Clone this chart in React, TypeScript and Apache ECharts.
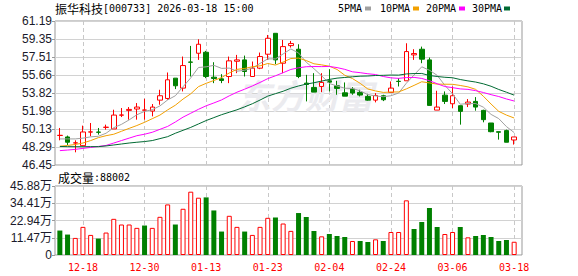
import React, { useEffect, useRef } from 'react';
import * as echarts from 'echarts';

const dates = [
  '12-15','12-16','12-17','12-18','12-19','12-22','12-23','12-24','12-25','12-26',
  '12-29','12-30','12-31','01-05','01-06','01-07','01-08','01-09','01-12','01-13',
  '01-14','01-15','01-16','01-19','01-20','01-21','01-22','01-23','01-26','01-27',
  '01-28','01-29','01-30','02-02','02-03','02-04','02-05','02-06','02-09','02-10',
  '02-11','02-12','02-13','02-24','02-25','02-26','02-27','03-02','03-03','03-04',
  '03-05','03-06','03-09','03-10','03-11','03-12','03-13','03-16','03-17','03-18',
];

const priceTicks = ['46.45','48.29','50.13','51.98','53.82','55.66','57.51','59.35','61.19'];
const volTicks = ['0','11.47万','22.94万','34.41万','45.88万'];

const opens = [
  49.47,49.32,48.70,48.43,49.82,49.82,50.30,50.14,51.55,52.04,
  52.18,52.06,51.97,53.09,53.26,55.34,54.32,56.99,57.89,57.99,
  55.44,55.27,55.51,57.07,57.21,55.51,56.36,57.79,59.93,56.87,
  58.67,58.30,54.83,54.39,54.49,55.07,54.56,53.84,54.22,53.88,
  53.47,53.09,53.54,53.88,55.02,55.07,57.72,58.30,57.21,52.07,
  53.60,52.72,52.52,52.69,52.96,52.04,50.75,49.86,49.97,49.01,
];
const closes = [
  49.49,48.78,48.72,49.83,49.84,49.80,50.32,51.56,51.57,52.14,
  52.38,52.08,52.38,53.54,55.17,54.56,56.63,56.97,58.81,55.51,
  55.31,55.10,57.11,57.21,56.02,56.36,57.55,59.42,57.21,58.57,
  58.88,55.51,54.69,53.91,54.90,54.93,54.29,53.50,53.81,53.61,
  53.09,53.57,53.13,54.32,55.00,58.06,57.86,57.28,52.55,52.38,
  52.96,53.54,51.94,52.89,52.38,51.09,49.86,49.80,48.78,49.32,
];
const lows = [
  48.98,48.50,47.75,48.37,49.39,49.56,50.07,50.14,51.36,51.09,
  51.09,51.09,51.43,52.62,53.13,54.22,53.98,55.51,57.21,55.34,
  54.83,54.83,54.83,55.85,55.51,55.51,56.26,57.21,56.77,55.85,
  58.47,55.34,52.96,53.91,53.91,53.98,53.64,53.50,53.64,53.47,
  53.03,52.86,52.99,53.88,54.49,55.07,57.21,56.87,52.55,52.07,
  52.69,52.28,50.58,52.38,52.01,50.82,49.80,49.05,48.78,48.54,
];
const highs = [
  50.24,49.46,48.98,50.48,50.75,50.24,50.58,52.11,52.28,52.38,
  52.79,53.23,52.69,54.15,55.92,55.34,57.55,58.64,59.32,58.13,
  56.97,55.75,57.55,57.72,57.65,57.04,57.96,59.76,59.93,59.25,
  59.15,58.81,55.68,55.85,55.85,56.26,55.07,54.90,54.42,54.15,
  53.74,53.81,53.64,55.00,55.34,58.91,58.30,58.57,57.45,54.05,
  53.98,54.49,52.52,53.20,53.40,52.11,50.75,49.86,50.07,49.32,
];

const ma5 = [
  49.12,49.12,49.12,49.20,49.33,49.39,49.70,50.27,50.61,51.07,
  51.59,51.94,52.11,52.50,53.11,53.54,54.46,55.37,56.43,56.50,
  56.65,56.34,56.37,56.05,56.15,56.36,56.85,57.31,57.31,57.82,
  58.33,57.92,56.97,56.31,55.58,54.79,54.54,54.31,54.29,54.03,
  53.66,53.52,53.44,53.54,53.82,54.82,55.67,56.50,56.15,55.63,
  54.61,53.74,52.67,52.74,52.74,52.37,51.63,51.20,50.38,49.77,
];
const ma10 = [
  48.37,48.45,48.55,48.70,48.95,49.25,49.45,49.60,49.90,50.20,
  50.49,50.82,51.19,51.56,52.09,52.57,53.20,53.74,54.47,54.81,
  55.10,55.40,55.87,56.24,56.33,56.51,56.60,56.84,56.68,56.99,
  57.35,57.39,57.14,56.81,56.70,56.56,56.23,55.64,55.30,54.81,
  54.23,54.03,53.88,53.92,53.93,54.24,54.60,54.97,54.85,54.73,
  54.72,54.71,54.59,54.45,54.19,53.49,52.69,51.94,51.56,51.26,
];
const ma20 = [
  47.92,47.98,48.05,48.15,48.25,48.35,48.45,48.70,48.95,49.20,
  49.45,49.60,49.80,50.10,50.40,50.85,51.35,51.75,52.15,52.51,
  52.80,53.11,53.53,53.90,54.21,54.54,54.90,55.29,55.58,55.90,
  56.23,56.40,56.51,56.53,56.52,56.54,56.42,56.24,55.99,55.90,
  55.79,55.71,55.51,55.37,55.32,55.40,55.42,55.31,55.08,54.77,
  54.48,54.37,54.24,54.19,54.06,53.87,53.65,53.46,53.21,53.00,
];
const ma30 = [
  48.35,48.33,48.32,48.32,48.33,48.33,48.40,48.50,48.60,48.70,
  48.78,48.85,48.95,49.15,49.35,49.70,50.00,50.30,50.65,51.00,
  51.30,51.60,51.85,52.10,52.40,52.72,53.10,53.50,53.75,54.00,
  54.31,54.54,54.73,54.87,55.04,55.21,55.34,55.41,55.48,55.54,
  55.56,55.61,55.63,55.66,55.65,55.77,55.81,55.82,55.61,55.51,
  55.43,55.38,55.20,55.06,54.94,54.76,54.51,54.18,53.90,53.60,
];

// volume in 万 (10,000 shares)
const volumes = [
  16.26,13.59,11.36,18.71,13.36,10.91,14.92,24.05,20.27,20.27,
  18.04,19.60,18.04,25.39,33.63,20.27,30.74,42.09,38.09,38.31,
  29.62,15.59,26.06,18.71,15.59,13.36,18.71,24.72,24.94,20.94,
  16.04,27.90,25.27,15.96,12.41,13.96,12.63,11.97,9.31,9.31,
  8.64,10.42,9.31,15.29,15.29,36.35,17.29,21.94,31.25,18.62,
  13.96,15.29,18.62,11.75,12.63,13.30,11.97,9.31,9.97,8.80,
];
const volUp = [
  0,0,1,1,1,0,1,1,1,1,
  1,0,1,1,1,0,1,1,1,0,
  0,0,1,1,0,1,1,1,0,1,
  1,0,0,0,1,0,0,0,1,0,
  0,1,0,1,1,1,0,0,0,0,
  1,1,0,1,0,0,0,0,0,1,
];

const maNames = ['5PMA', '10PMA', '20PMA', '30PMA'];
const maColors = ['#a0a0a0', '#f2a000', '#ff00ff', '#006a33'];

const RED = '#ff0000';
const GREEN = '#008000';
const MONO = '"DejaVu Sans Mono", "Liberation Mono", monospace';
const CJK = '"Noto Sans CJK SC", sans-serif';

export default function App() {
  const ref = useRef<HTMLDivElement>(null);

  useEffect(() => {
    if (!ref.current) return;
    const chart = echarts.init(ref.current, undefined, { renderer: 'svg' });

    const labelInterval = (i: number) => i % 8 === 3;
    const dashed = {
      show: true,
      interval: labelInterval,
      alignWithLabel: true,
      lineStyle: { color: '#c8c8c8', type: [4, 3] as any, width: 1 },
    };
    const solidSplit = { show: true, lineStyle: { color: '#d2d2d2', width: 1 } };

    const candleData = opens.map((o, i) => [o, closes[i], lows[i], highs[i]]);
    const volData = volumes.map((v, i) => ({
      value: v,
      itemStyle: volUp[i]
        ? { color: '#ffffff', borderColor: RED, borderWidth: 1 }
        : { color: GREEN, borderColor: GREEN, borderWidth: 0 },
    }));

    const mas = [ma5, ma10, ma20, ma30];

    const legendGraphics: any[] = [];
    const legendX = [338, 380, 426, 472];
    const rectX = [365, 413, 459, 504];
    maNames.forEach((n, k) => {
      legendGraphics.push({
        type: 'text',
        x: legendX[k],
        y: 8.5,
        style: { text: n, font: `10px ${MONO}`, fill: '#000', verticalAlign: 'middle' },
      });
      legendGraphics.push({
        type: 'rect',
        shape: { x: rectX[k], y: 6.5, width: 6, height: 4 },
        style: { fill: maColors[k] },
      });
    });

    chart.setOption({
      animation: false,
      backgroundColor: '#ffffff',
      grid: [
        { left: 55, top: 21, width: 467, height: 144, show: true, borderColor: '#999', borderWidth: 1, backgroundColor: 'transparent' },
        { left: 56, top: 21, width: 462, height: 144 },
        { left: 55, top: 186, width: 467, height: 69, show: true, borderColor: '#999', borderWidth: 1, backgroundColor: 'transparent' },
        { left: 56, top: 186, width: 462, height: 69 },
      ],
      xAxis: [
        { gridIndex: 0, type: 'value', min: 0, max: 1, show: false },
        {
          gridIndex: 1, type: 'category', data: dates, boundaryGap: true,
          axisLine: { show: false }, axisTick: { show: false }, axisLabel: { show: false },
          splitLine: dashed,
        },
        { gridIndex: 2, type: 'value', min: 0, max: 1, show: false },
        {
          gridIndex: 3, type: 'category', data: dates, boundaryGap: true,
          axisLine: { show: false }, axisTick: { show: false },
          axisLabel: {
            show: true, interval: labelInterval, color: RED,
            fontFamily: MONO, fontSize: 10, margin: 7,
          },
          splitLine: dashed,
        },
      ],
      yAxis: [
        {
          gridIndex: 0, type: 'value', min: 0, max: 8, interval: 1,
          axisLine: { show: false },
          axisTick: { show: true, length: 3, lineStyle: { color: '#999' } },
          axisLabel: {
            formatter: (v: number) => priceTicks[Math.round(v)],
            color: '#1a1a2a', fontFamily: '"Liberation Sans", Arial, sans-serif', fontSize: 12, margin: 3,
          },
          splitLine: solidSplit,
        },
        { gridIndex: 1, type: 'value', min: 46.45, max: 61.19, show: false, splitLine: { show: false } },
        {
          gridIndex: 2, type: 'value', min: 0, max: 4, interval: 1,
          axisLine: { show: false },
          axisTick: { show: true, length: 3, lineStyle: { color: '#999' } },
          axisLabel: {
            formatter: (v: number) => volTicks[Math.round(v)],
            color: '#1a1a2a', fontFamily: '"Liberation Sans", Arial, "Noto Sans CJK SC", sans-serif', fontSize: 12, margin: 3,
          },
          splitLine: solidSplit,
        },
        { gridIndex: 3, type: 'value', min: 0, max: 45.88, show: false, splitLine: { show: false } },
      ],
      series: [
        {
          type: 'candlestick', name: 'K', xAxisIndex: 1, yAxisIndex: 1,
          data: candleData, barWidth: 5, z: 2,
          itemStyle: { color: '#ffffff', color0: GREEN, borderColor: RED, borderColor0: GREEN, borderWidth: 1 },
        },
        ...mas.map((m, k) => ({
          type: 'line', name: maNames[k], xAxisIndex: 1, yAxisIndex: 1,
          data: m, symbol: 'none', smooth: false, z: 3,
          lineStyle: { color: maColors[k], width: 1 },
          itemStyle: { color: maColors[k] },
        })),
        {
          type: 'bar', name: '成交量', xAxisIndex: 3, yAxisIndex: 3,
          data: volData, barWidth: 5,
        },
      ],
      graphic: [
        {
          type: 'text', x: 237, y: 94, z: 1,
          style: {
            text: '东方财富', font: `italic bold 34px ${CJK}`, fill: '#ebebef', verticalAlign: 'middle',
          },
        },
        {
          type: 'text', x: 55, y: 8.5,
          style: {
            text: '{a|振华科技}{b|[000733] 2026-03-18 15:00}',
            verticalAlign: 'middle',
            rich: {
              a: { fontFamily: CJK, fontSize: 12, fill: '#000', color: '#000' },
              b: { fontFamily: MONO, fontSize: 10, fill: '#000', color: '#000' },
            },
          },
        },
        {
          type: 'text', x: 58, y: 177,
          style: {
            text: '{a|成交量}{b|:88002}',
            verticalAlign: 'middle',
            rich: {
              a: { fontFamily: CJK, fontSize: 12, fill: '#000', color: '#000' },
              b: { fontFamily: MONO, fontSize: 10, fill: '#000', color: '#000' },
            },
          },
        },
        ...legendGraphics,
      ],
    });

    return () => chart.dispose();
  }, []);

  return (
    <div
      ref={ref}
      style={{ position: 'absolute', left: 0, top: 0, width: 578, height: 276 }}
    />
  );
}
